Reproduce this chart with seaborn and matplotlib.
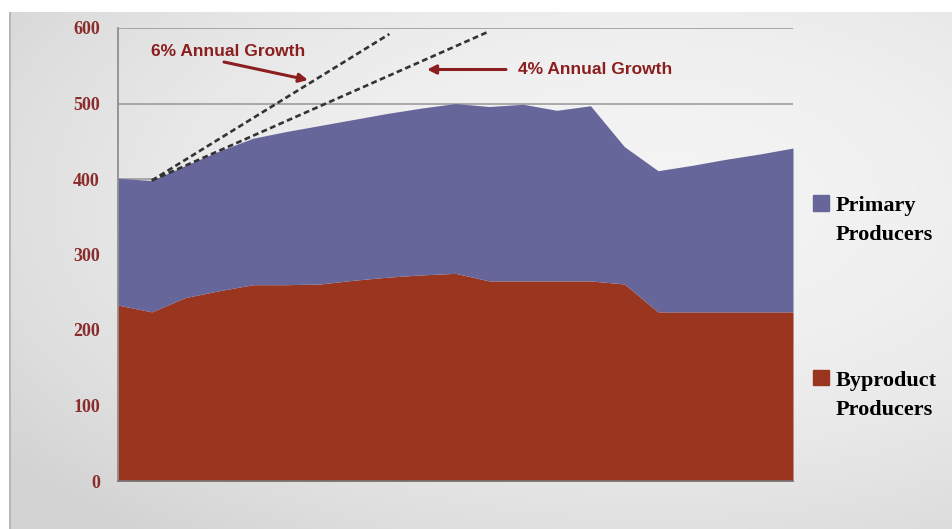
import numpy as np
import pandas as pd
import seaborn as sns
import matplotlib
matplotlib.use("Agg")
import matplotlib.pyplot as plt
from matplotlib.patches import Rectangle

# ---- data -------------------------------------------------------------
periods = list(range(21))
byproduct = [233, 224, 243, 252, 260, 260, 261, 266, 270, 273, 275,
             265, 265, 265, 265, 261, 224, 224, 224, 224, 224]
primary = [168, 174, 175, 185, 194, 203, 210, 213, 217, 221, 225,
           231, 234, 226, 232, 182, 187, 194, 202, 209, 217]
y_ticks = [0, 100, 200, 300, 400, 500, 600]

# growth reference lines: (period, value) end points
growth6_x = [1, 8.04]
growth6_y = [398, 592]
growth4_x = [1, 10.92]
growth4_y = [398, 594]

series_names = ["Primary\nProducers", "Byproduct\nProducers"]

df = pd.DataFrame({"period": periods, "byproduct": byproduct, "primary": primary})
df["total"] = df["byproduct"] + df["primary"]

# ---- style ------------------------------------------------------------
sns.set_style("white")
plt.rcParams["font.family"] = ["Liberation Sans", "DejaVu Sans"]

W, H = 953, 529
fig = plt.figure(figsize=(W / 100, H / 100), dpi=100)

# soft grey slide background
bg = fig.add_axes([0, 0, 1, 1], zorder=-10)
yy, xx = np.mgrid[0:H, 0:W]
d2 = ((xx - 650) / 680.0) ** 2 + ((yy - 200) / 360.0) ** 2
v = np.clip(0.955 - 0.09 * d2, 0.83, 0.96)
v[:12, :] = 1.0
v[:, :10] = 1.0
v[12:, 9:11] = 0.72
img = np.dstack([v, v, v])
bg.imshow(img, extent=[0, W, H, 0], aspect="auto", interpolation="bilinear")
bg.set_axis_off()

ax = fig.add_axes([118 / W, 1 - 481 / H, (793 - 118) / W, (481 - 28) / H])
ax.set_facecolor("none")

blue = "#67669a"
red = "#9a3520"

ax.fill_between(df["period"], 0, df["byproduct"], color=red, lw=0, zorder=2)
ax.fill_between(df["period"], df["byproduct"], df["total"], color=blue, lw=0, zorder=2)

sns.lineplot(x=growth6_x, y=growth6_y, ax=ax, color="#333333", lw=1.9,
             linestyle=(0, (2.2, 1.3)), zorder=4)
sns.lineplot(x=growth4_x, y=growth4_y, ax=ax, color="#333333", lw=1.9,
             linestyle=(0, (2.2, 1.3)), zorder=4)

ax.set_xlim(0, 20)
ax.set_ylim(0, 600)
ax.set_xticks(periods)
ax.set_xticklabels([])
ax.set_yticks(y_ticks)
ax.set_yticklabels([str(t) for t in y_ticks], fontfamily="Liberation Serif",
                   fontweight="bold", fontsize=13, color="#8a2c2c")
ax.tick_params(axis="x", direction="out", length=4, width=1, color="#777777")
ax.tick_params(axis="y", direction="out", length=4, width=1, color="#888888", pad=9)
ax.yaxis.grid(True, color="#9c9c9c", lw=1.2, zorder=1)
ax.set_axisbelow(True)
for s in ["top", "right"]:
    ax.spines[s].set_visible(False)
ax.spines["left"].set_color("#888888")
ax.spines["left"].set_linewidth(1.2)
ax.spines["bottom"].set_color("#777777")
ax.spines["bottom"].set_linewidth(1.2)
ax.set_xlabel("")
ax.set_ylabel("")

# ---- annotations ------------------------------------------------------
ann_color = "#8b1e1e"
fig.text(228 / W, 1 - 51.5 / H, "6% Annual Growth", ha="center", va="center",
         fontsize=12.5, fontweight="bold", color=ann_color)
fig.text(595 / W, 1 - 70 / H, "4% Annual Growth", ha="center", va="center",
         fontsize=12.5, fontweight="bold", color=ann_color)
ax.annotate("", xy=(308, H - 80), xycoords="figure pixels",
            xytext=(224, H - 62), textcoords="figure pixels",
            arrowprops=dict(arrowstyle="-|>", color=ann_color, lw=2.2,
                            mutation_scale=13, shrinkA=0, shrinkB=0))
ax.annotate("", xy=(427, H - 69.5), xycoords="figure pixels",
            xytext=(506, H - 69.5), textcoords="figure pixels",
            arrowprops=dict(arrowstyle="-|>", color=ann_color, lw=2.2,
                            mutation_scale=13, shrinkA=0, shrinkB=0))

# ---- legend -----------------------------------------------------------
legend_items = [(series_names[0], blue, 211.5), (series_names[1], red, 386)]
for label, col, base in legend_items:
    fig.patches.append(Rectangle((813 / W, 1 - (base - 1) / H), 16 / W, 15 / H,
                                 transform=fig.transFigure, color=col, zorder=5))
    first, second = label.split("\n")
    fig.text(836 / W, 1 - base / H, first, ha="left", va="baseline",
             fontfamily="Liberation Serif", fontweight="bold", fontsize=16, color="black")
    fig.text(836 / W, 1 - (base + 29) / H, second, ha="left", va="baseline",
             fontfamily="Liberation Serif", fontweight="bold", fontsize=16, color="black")

fig.savefig("out.png", dpi=100)
